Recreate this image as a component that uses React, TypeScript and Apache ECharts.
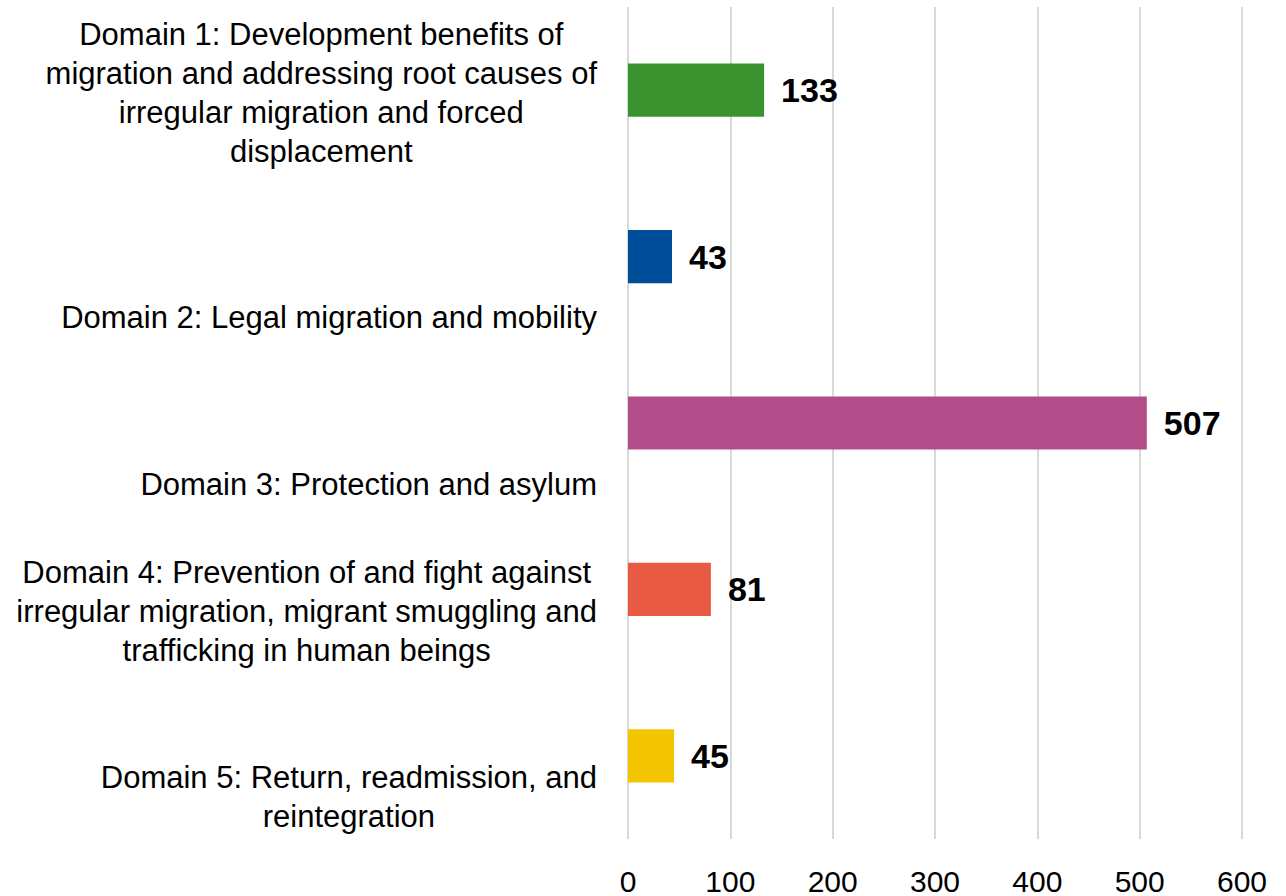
import React, { useEffect, useRef } from "react";
import * as echarts from "echarts";

const categories: string[] = [
  "Domain 1: Development benefits of\nmigration and addressing root causes of\nirregular migration and forced\ndisplacement",
  "Domain 2: Legal migration and mobility",
  "Domain 3: Protection and asylum",
  "Domain 4: Prevention of and fight against\nirregular migration, migrant smuggling and\ntrafficking in human beings",
  "Domain 5: Return, readmission, and\nreintegration",
];
const values: number[] = [133, 43, 507, 81, 45];
const barColors: string[] = ["#3a932f", "#004e9a", "#b34d89", "#e85a44", "#f2c500"];
const xTicks = { min: 0, max: 600, interval: 100 };

const LABEL_FONT = "'Liberation Sans', Arial, sans-serif";

export default function App() {
  const ref = useRef<HTMLDivElement>(null);
  useEffect(() => {
    if (!ref.current) return;
    const chart = echarts.init(ref.current, null, { renderer: "svg" });
    chart.setOption({
      animation: false,
      backgroundColor: "#ffffff",
      grid: { left: 628, right: 44, top: 7, bottom: 55.5, containLabel: false },
      xAxis: {
        type: "value",
        min: xTicks.min,
        max: xTicks.max,
        interval: xTicks.interval,
        axisLine: { show: false },
        axisTick: { show: false },
        splitLine: { show: true, lineStyle: { color: "#d9d9d9", width: 2 } },
        axisLabel: {
          color: "#000",
          fontSize: 30,
          fontFamily: LABEL_FONT,
          margin: 27,
        },
      },
      yAxis: {
        type: "category",
        inverse: true,
        data: categories,
        axisLine: { show: false },
        axisTick: { show: false },
        splitLine: { show: false },
        axisLabel: {
          margin: 31,
          color: "#000",
          fontSize: 31,
          fontFamily: LABEL_FONT,
          lineHeight: 39,
          padding: [5, 0, 0, 0],
          formatter: (v: string) => {
            const lines = v.split("\n");
            const blanks = Math.max(0, 4 - lines.length);
            return "\n".repeat(blanks) + lines.map((l) => `{c|${l}}`).join("\n");
          },
          rich: {
            c: {
              align: "center",
              color: "#000",
              fontSize: 31,
              fontFamily: LABEL_FONT,
              lineHeight: 39,
            },
          },
        },
      },
      series: [
        {
          type: "bar",
          barWidth: "32%",
          data: values.map((v, i) => ({ value: v, itemStyle: { color: barColors[i] } })),
          label: {
            show: true,
            position: "right",
            distance: 17,
            color: "#000",
            fontWeight: "bold",
            fontSize: 34,
            fontFamily: LABEL_FONT,
          },
        },
      ],
    });
    return () => chart.dispose();
  }, []);
  return (
    <div
      ref={ref}
      style={{ position: "fixed", left: 0, top: 0, width: 1286, height: 896, background: "#fff" }}
    />
  );
}
